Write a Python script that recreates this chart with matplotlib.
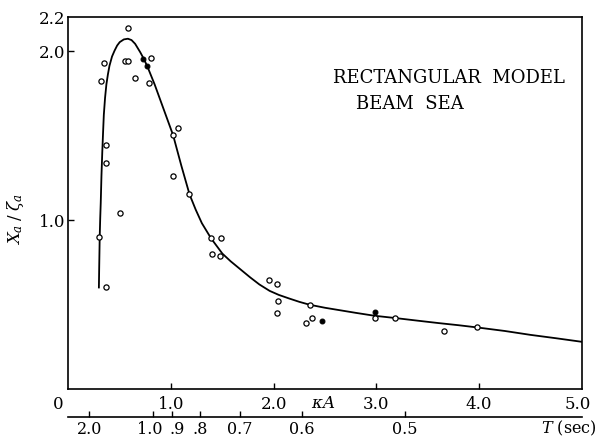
import numpy as np
import matplotlib
matplotlib.use("Agg")
import matplotlib.pyplot as plt
import matplotlib.transforms as mtransforms

plt.rcParams['font.family'] = ['DejaVu Serif']
plt.rcParams['mathtext.fontset'] = 'dejavuserif'

# measured points (kA, Xa/za)
open_x = [0.583, 0.343, 0.320, 0.554, 0.580, 0.651, 0.801, 0.785, 1.064, 1.016,
          0.365, 0.363, 1.021, 1.177, 0.499, 0.297, 1.386, 1.486, 1.396, 1.480,
          0.363, 1.957, 2.032, 2.042, 2.032, 2.351, 2.370, 2.315, 2.984, 3.185,
          3.663, 3.979]
open_y = [2.131, 1.926, 1.819, 1.941, 1.941, 1.835, 1.959, 1.809, 1.542, 1.500,
          1.443, 1.335, 1.260, 1.154, 1.040, 0.896, 0.890, 0.890, 0.799, 0.784,
          0.604, 0.646, 0.622, 0.522, 0.449, 0.498, 0.419, 0.388, 0.421, 0.419,
          0.343, 0.364]
filled_x = [0.729, 0.768, 2.474, 2.984]
filled_y = [1.949, 1.910, 0.400, 0.455]

# calculated curve
curve_x = [0.297, 0.300, 0.305, 0.310, 0.315, 0.322, 0.330, 0.338, 0.345, 0.357, 0.370,
           0.385, 0.400, 0.425, 0.450, 0.475, 0.500, 0.540, 0.580, 0.615, 0.650,
           0.700, 0.740, 0.780, 0.840, 0.900, 0.960, 1.020, 1.060, 1.100, 1.140,
           1.180, 1.240, 1.300, 1.390, 1.500, 1.580, 1.670, 1.770, 1.860, 1.960,
           2.050, 2.150, 2.250, 2.350, 2.500, 2.650, 2.800, 2.980, 3.190, 3.400,
           3.600, 3.800, 3.980, 4.250, 4.500, 4.750, 5.000]
curve_y = [0.600, 0.720, 0.900, 1.010, 1.100, 1.260, 1.400, 1.520, 1.620, 1.720, 1.800,
           1.860, 1.910, 1.965, 2.000, 2.030, 2.050, 2.066, 2.070, 2.062, 2.040,
           1.990, 1.945, 1.890, 1.800, 1.700, 1.600, 1.500, 1.410, 1.320, 1.235,
           1.150, 1.060, 0.980, 0.890, 0.800, 0.755, 0.710, 0.660, 0.618, 0.580,
           0.556, 0.535, 0.515, 0.498, 0.480, 0.465, 0.450, 0.433, 0.419, 0.404,
           0.390, 0.377, 0.364, 0.343, 0.320, 0.300, 0.279]

x_ticks = [0, 1, 2, 3, 4, 5]
x_labels = ['0', '1.0', '2.0', '3.0', '4.0', '5.0']
y_ticks = [1.0, 2.0, 2.2]
y_labels = ['1.0', '2.0', '2.2']
T_values = [2.0, 1.0, 0.9, 0.8, 0.7, 0.6, 0.5]
T_labels = ['2.0', '1.0', '.9', '.8', '0.7', '0.6', '0.5']
kA_T2 = 0.82  # kA * T^2 for this model

fig = plt.figure(figsize=(6, 4.39), dpi=100)
ax = fig.add_axes([0.114, 0.1116, 0.8555, 0.848])

ax.plot(curve_x, curve_y, color='black', lw=1.3)
ax.scatter(open_x, open_y, s=14, facecolors='white', edgecolors='black', linewidths=0.9, zorder=3)
ax.scatter(filled_x, filled_y, s=12, facecolors='black', edgecolors='black', linewidths=0.8, zorder=3)

ax.set_xlim(0, 5)
ax.set_ylim(0, 2.2)
for sp in ax.spines.values():
    sp.set_linewidth(1.2)

ax.set_xticks(x_ticks, x_labels)
ax.set_yticks(y_ticks, y_labels)
ax.tick_params(axis='both', direction='in', length=4, width=1.0, labelsize=12, pad=4)
ax.tick_params(axis='y', pad=2)
ax.yaxis.get_major_ticks()[2].tick1line.set_visible(False)
ax.xaxis.get_major_ticks()[0].tick1line.set_visible(False)
ax.xaxis.get_major_ticks()[-1].tick1line.set_visible(False)

def nudge(label, dx):
    label.set_transform(label.get_transform() + mtransforms.ScaledTranslation(dx / 100, 0, fig.dpi_scale_trans))

ax.text(2.48, -0.03, r'$\kappa A$', ha='center', va='top', fontsize=12)

ax.set_ylabel(r'$X_a\;/\;\zeta_a$', fontsize=12)
ax.yaxis.set_label_coords(-0.082, 0.46)

ax.text(2.578, 1.843, 'RECTANGULAR  MODEL', fontsize=13, ha='left', va='center')
ax.text(2.802, 1.689, 'BEAM  SEA', fontsize=13, ha='left', va='center')

sec = ax.secondary_xaxis(-0.075)
sec.set_xticks([kA_T2 / t ** 2 for t in T_values], T_labels)
sec.tick_params(direction='in', length=4, width=1.0, labelsize=11.5, pad=2.5)
sec.spines['bottom'].set_linewidth(1.2)
ax.text(1.03, -0.104, r'$T$ (sec)', transform=ax.transAxes, ha='right', va='center', fontsize=11.5)

fig.canvas.draw()
nudge(ax.xaxis.get_major_ticks()[0].label1, -10)
nudge(ax.xaxis.get_major_ticks()[-1].label1, -4)
nudge(sec.xaxis.get_major_ticks()[1].label1, -3)
nudge(sec.xaxis.get_major_ticks()[2].label1, 5)

fig.savefig('out.png', dpi=100)
